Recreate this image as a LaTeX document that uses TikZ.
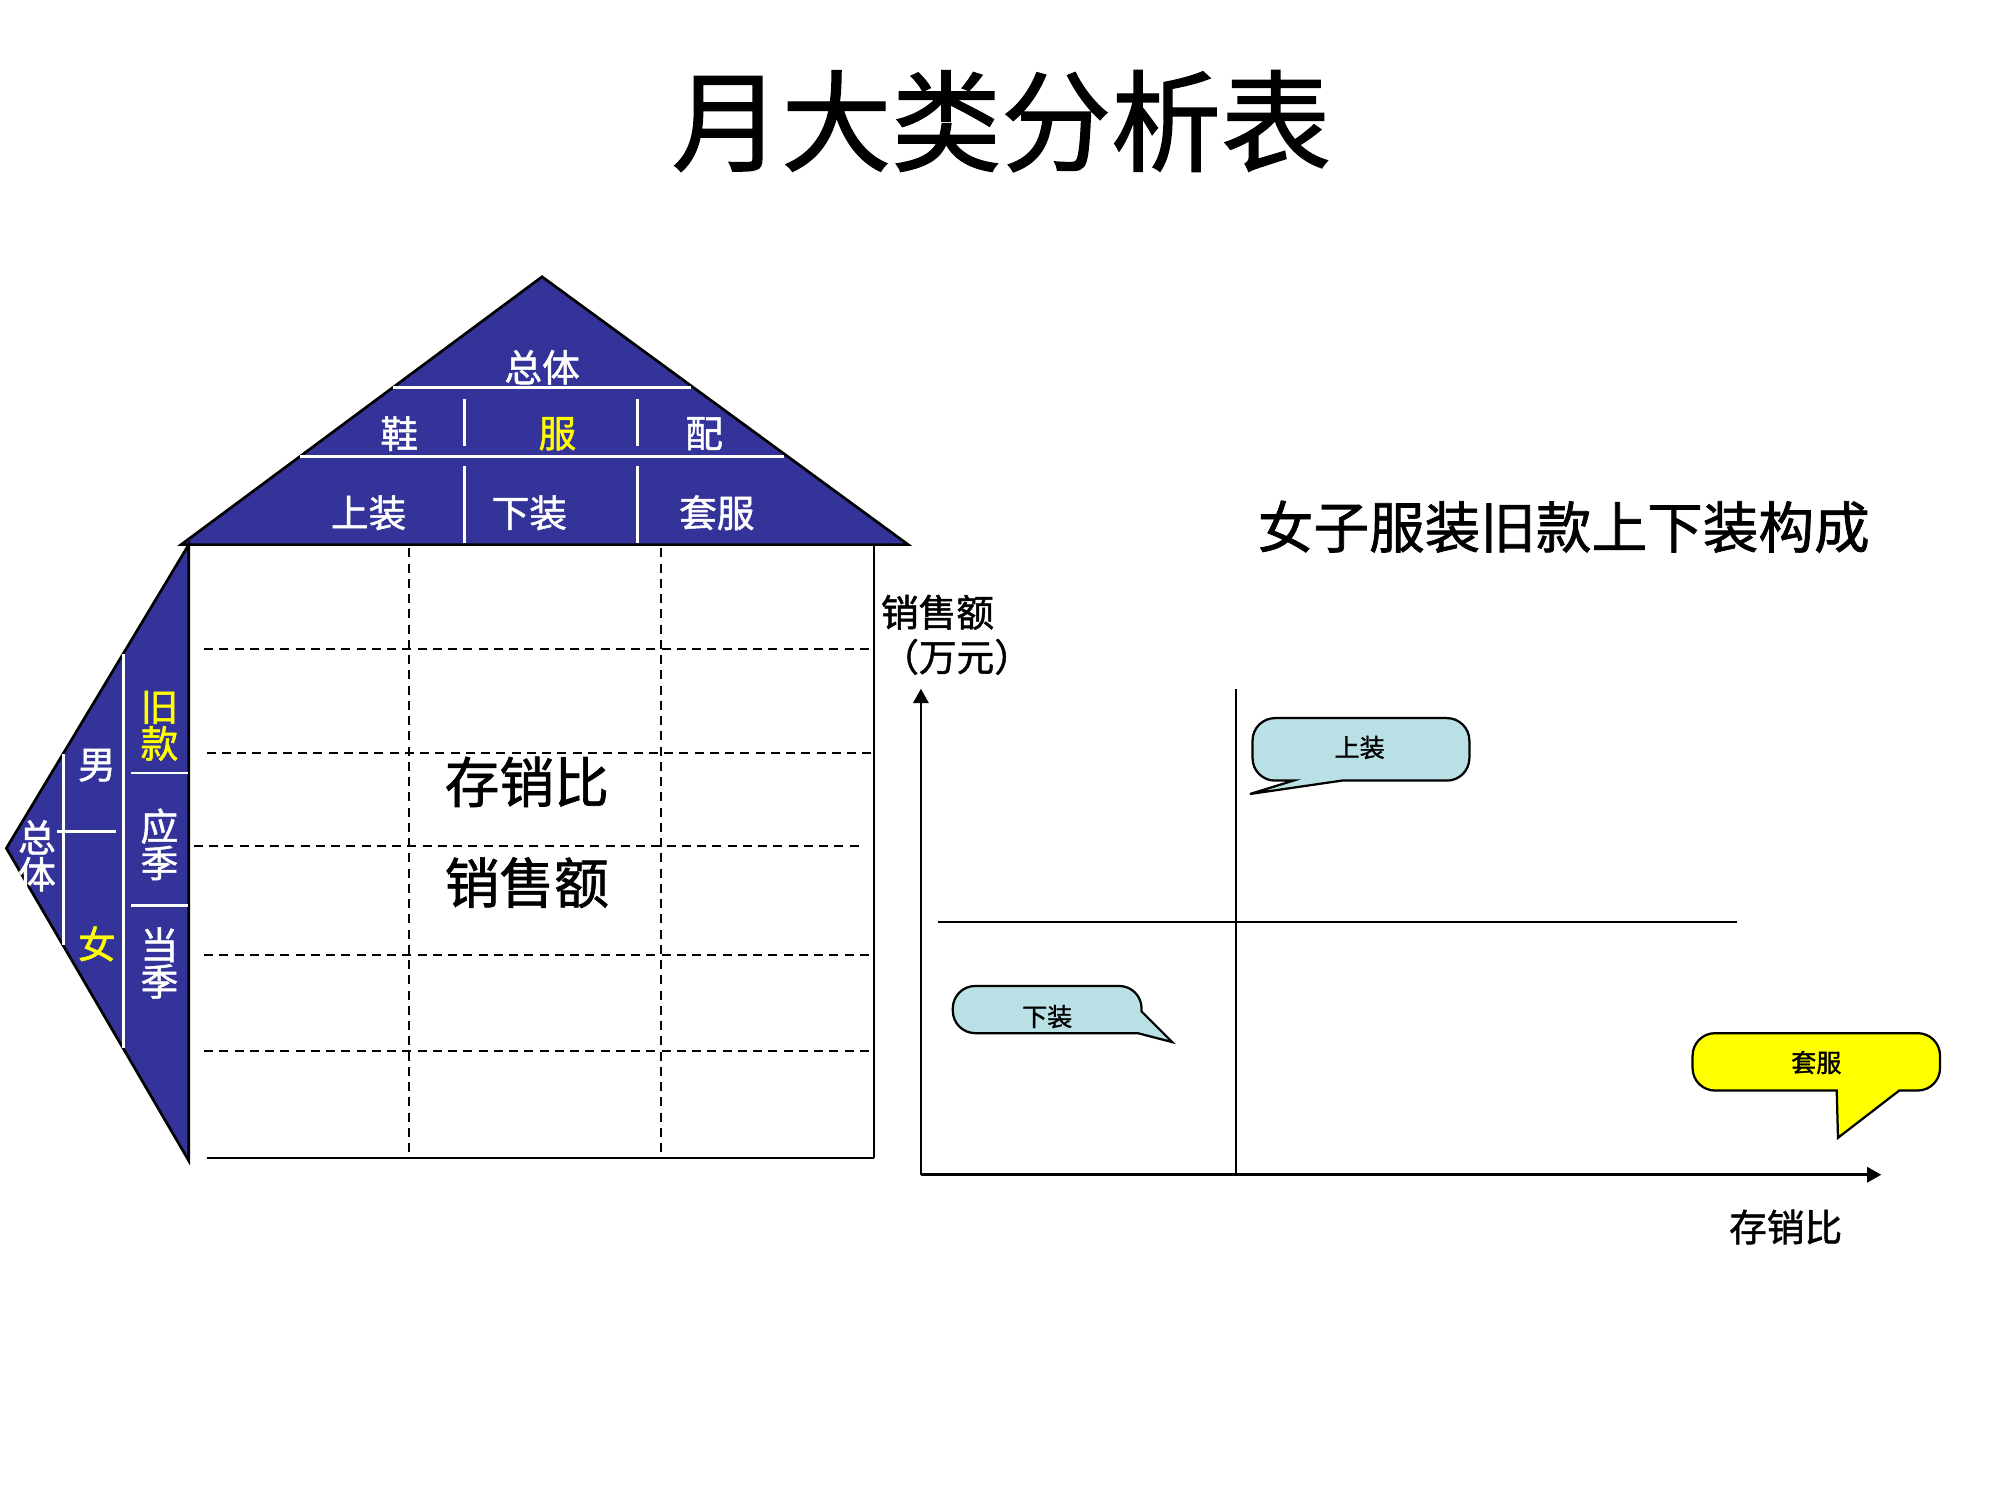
\documentclass[tikz,border=0pt]{standalone}
\usepackage{fontspec}
\setmainfont{Noto Sans CJK SC}
\newfontfamily\hei{Noto Sans CJK SC}[FakeBold=1.3]
\usetikzlibrary{arrows.meta}
\definecolor{roofblue}{HTML}{333399}
\definecolor{tipblue}{HTML}{B9E0E4}
\definecolor{tipyellow}{HTML}{FFFF00}
\definecolor{markyellow}{HTML}{FFFF00}

\begin{document}
\begin{tikzpicture}[x=0.01cm,y=-0.01cm,
  roof/.style={fill=roofblue,draw=black,line width=0.6pt},
  sep/.style={draw=white,line width=0.6pt},
  grid/.style={line width=0.45pt,dash pattern=on 2pt off 1.4pt},
  edge/.style={line width=0.5pt},
  axis/.style={line width=0.6pt,-{Triangle[length=3.2pt,width=3.4pt]}},
  rooftext/.style={text=white,inner sep=0pt,font=\hei\fontsize{8.4}{8.4}\selectfont},
  wingtext/.style={text=white,inner sep=0pt,align=center,font=\hei\fontsize{8.4}{8.2}\selectfont},
  bigtext/.style={inner sep=0pt,font=\hei\fontsize{12.2}{12.2}\selectfont},
  labeltext/.style={inner sep=0pt,font=\hei\fontsize{8.4}{8.4}\selectfont},
  tiptext/.style={inner sep=0pt,font=\hei\fontsize{5.6}{5.6}\selectfont},
  callout/.style={draw=black,line width=0.5pt,rounded corners=5}]
  \path[use as bounding box] (0,0) rectangle (1568,1176);

  % title
  \node[inner sep=0pt,font=\hei\fontsize{24.5}{24.5}\selectfont] (title) at (785,95) {月大类分析表};

  % roof
  \draw[roof] (425,217) -- (142,427) -- (712,427) -- cycle;
  \draw[sep] (308,304) -- (542,304);
  \draw[sep] (235,358) -- (615,358);
  \foreach \x in {364,500} {
    \draw[sep] (\x,313) -- (\x,350);
    \draw[sep] (\x,365) -- (\x,426);
  }
  \node[rooftext] (zongti) at (425,288) {总体};
  \node[rooftext] (xie) at (313,340) {鞋};
  \node[rooftext,text=markyellow] (fu) at (437,340) {服};
  \node[rooftext] (pei) at (552,340) {配};
  \node[rooftext] (shangzhuang) at (289,402) {上装};
  \node[rooftext] (xiazhuang) at (415,402) {下装};
  \node[rooftext] (taofu) at (562,402) {套服};

  % left wing
  \draw[roof] (148,427) -- (5,665) -- (148,910) -- cycle;
  \draw[sep] (97,513) -- (97,822);
  \draw[sep] (50,591) -- (50,741);
  \draw[sep] (45,652) -- (91,652);
  \draw[sep] (103,606) -- (147,606);
  \draw[sep] (103,710) -- (147,710);
  \node[wingtext] (wzongti) at (29,671) {总\\体};
  \node[wingtext] (nan) at (76,600) {男};
  \node[wingtext,text=markyellow] (nv) at (76,740) {女};
  \node[wingtext,text=markyellow] (jiukuan) at (125,569) {旧\\款};
  \node[wingtext] (yingji) at (125,662) {应\\季};
  \node[wingtext] (dangji) at (125,755) {当\\季};

  % table body
  \draw[edge] (685,427) -- (685,908);
  \draw[edge] (162,908) -- (685,908);
  \foreach \x in {321,518}
    \draw[grid] (\x,430) -- (\x,908);
  \foreach \y/\a/\b in {509/160/685,590/162/685,663/152/678,749/160/685,824/160/685}
    \draw[grid] (\a,\y) -- (\b,\y);
  \node[bigtext] (cxb) at (413,613) {存销比};
  \node[bigtext] (xse) at (413,692) {销售额};

  % chart
  \node[inner sep=0pt,font=\hei\fontsize{12.4}{12.4}\selectfont] (charttitle) at (1226,413) {女子服装旧款上下装构成};
  \coordinate (o) at (722,921);
  \coordinate (ytop) at (722,540);
  \coordinate (xend) at (1475,921);
  \draw[axis] (o) -- (ytop);
  \draw[axis] (o) -- (xend);
  \coordinate (vtop) at (969,540);
  \coordinate (vbot) at (969,921);
  \coordinate (hl) at (735,723);
  \coordinate (hr) at (1362,723);
  \draw[edge] (vtop) -- (vbot);
  \draw[edge] (hl) -- (hr);
  \node[labeltext] (ylabel) at (735,480) {销售额};
  \node[labeltext] (yunit) at (750,515) {（万元）};
  \node[labeltext] (xlabel) at (1400,962) {存销比};

  % callouts
  \draw[callout,fill=tipblue] (1070,563) -- (982,563) -- (982,612) [sharp corners] -- (1014,612)
    -- (980,622.5) -- (1052,612) [rounded corners=5] -- (1152,612) -- (1152,563) -- cycle;
  \node[tiptext] (tipsz) at (1066,586) {上装};
  \draw[callout,fill=tipblue] (820,773) -- (747,773) -- (747,810) [sharp corners] -- (892,810)
    -- (919,817) -- (895,793) [rounded corners=5] -- (895,773) -- cycle;
  \node[tiptext] (tipxz) at (821,797) {下装};
  \draw[callout,fill=tipyellow] (1420,810) -- (1327,810) -- (1327,855) [sharp corners] -- (1440,855)
    -- (1441,892) -- (1489,855) [rounded corners=5] -- (1521,855) -- (1521,810) -- cycle;
  \node[tiptext] (tiptf) at (1424,833) {套服};
\end{tikzpicture}
\end{document}
